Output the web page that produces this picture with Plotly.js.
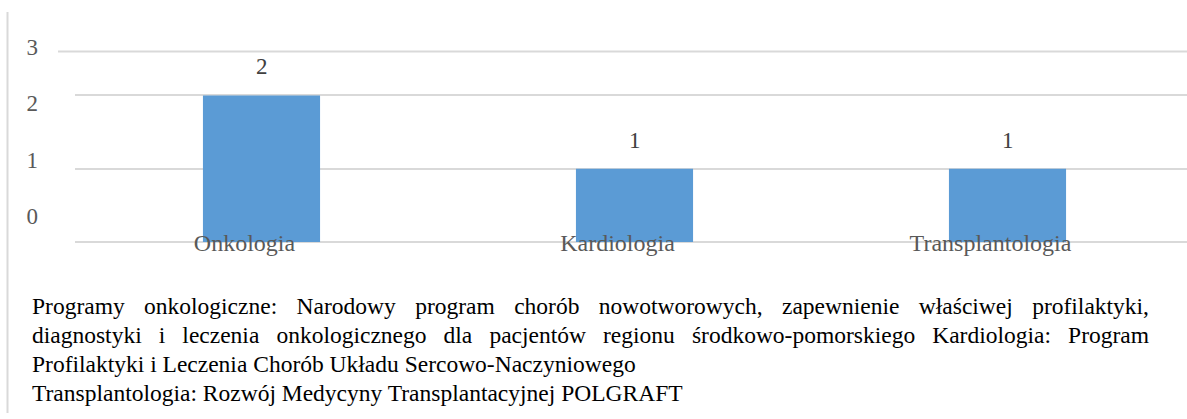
<!DOCTYPE html>
<html>
<head>
<meta charset="utf-8">
<script src="https://cdn.plot.ly/plotly-3.0.1.min.js"></script>
<style>
html,body{margin:0;padding:0;background:#fff;overflow:hidden;}
#chart{width:1200px;height:419px;}
</style>
</head>
<body>
<div id="chart"></div>
<script>
// ---- data ----
const categories = ["Onkologia", "Kardiologia", "Transplantologia"];
const values = [2, 1, 1];
const yTickValues = [0, 1, 2, 3];
const yTickLabels = ["0", "1", "2", "3"];
const captionLines = [
  "Programy onkologiczne: Narodowy program chorób nowotworowych, zapewnienie właściwej profilaktyki,",
  "diagnostyki i leczenia onkologicznego dla pacjentów regionu środkowo-pomorskiego Kardiologia: Program",
  "Profilaktyki i Leczenia Chorób Układu Sercowo-Naczyniowego",
  "Transplantologia: Rozwój Medycyny Transplantacyjnej POLGRAFT"
];
const justifyLines = [true, true, false, false];

// ---- geometry / style ----
const W = 1200, H = 419;
const M = {l: 75, r: 6, t: 40, b: 177};
const plotW = W - M.l - M.r, plotH = H - M.t - M.b;
const unitPx = 73.3;
const serif = "Liberation Serif";
const capFont = 23.5;
const capLeftPx = 30, capRightPx = 1147;
const capBaselines = [313, 342, 371, 400];

function pxToPaperX(px){ return (px - M.l) / plotW; }
function pxToPaperY(py){ return 1 - (py - M.t) / plotH; }

// measure text to justify lines
const cv = document.createElement('canvas').getContext('2d');
cv.font = capFont + "px \"Liberation Serif\"";

const annotations = [];
categories.forEach((c, i) => {
  annotations.push({
    x: c, y: values[i], xref: 'x', yref: 'y',
    text: String(values[i]), showarrow: false,
    yanchor: 'bottom', yshift: 14,
    font: {family: serif, size: 23, color: '#404040'}
  });
});
captionLines.forEach((line, i) => {
  let txt = line;
  if (justifyLines[i]) {
    const w = cv.measureText(line).width;
    const n = (line.match(/ /g) || []).length;
    const ws = ((capRightPx - capLeftPx) - w) / n;
    txt = '<span style="word-spacing:' + ws.toFixed(2) + 'px">' + line + '</span>';
  }
  annotations.push({
    x: pxToPaperX(capLeftPx), xref: 'paper', xanchor: 'left',
    y: pxToPaperY(capBaselines[i] - 7.5), yref: 'paper', yanchor: 'middle',
    text: txt, showarrow: false, align: 'left',
    font: {family: serif, size: capFont, color: '#000000'}
  });
});

const traces = [
  {
    type: 'bar', x: categories, y: values,
    marker: {color: '#5b9bd5', line: {width: 0}},
    hoverinfo: 'x+y', showlegend: false
  },
  {
    type: 'scatter', x: [], y: [], yaxis: 'y2',
    showlegend: false, hoverinfo: 'skip'
  }
];

const layout = {
  width: W, height: H,
  margin: M,
  font: {family: serif},
  paper_bgcolor: '#ffffff', plot_bgcolor: 'rgba(0,0,0,0)',
  bargap: 0.686,
  showlegend: false,
  xaxis: {
    type: 'category', range: [-0.5, 2.5],
    showgrid: false, zeroline: false, showline: false,
    ticks: '', ticklabelstandoff: -16, ticklabelshift: -17,
    tickfont: {family: serif, size: 24, color: '#595959'},
    fixedrange: true
  },
  yaxis: {
    range: [0, plotH / unitPx],
    tickvals: [0, 1, 2],
    showticklabels: false, ticks: '',
    showgrid: true, gridcolor: '#d9d9d9', gridwidth: 2,
    zeroline: true, zerolinecolor: '#d9d9d9', zerolinewidth: 2,
    showline: false, fixedrange: true, layer: 'below traces'
  },
  yaxis2: {
    anchor: 'free', position: 0, side: 'left',
    domain: [(M.t + plotH - 216) / plotH, (M.t + plotH - 47) / plotH],
    range: [0, 3],
    tickvals: yTickValues, ticktext: yTickLabels,
    ticks: '', ticklabelstandoff: 37,
    showgrid: false, zeroline: false, showline: false,
    tickfont: {family: serif, size: 23, color: '#595959'},
    fixedrange: true
  },
  shapes: [
    {type: 'line', xref: 'paper', yref: 'y', x0: pxToPaperX(58), x1: 1, y0: 2.6, y1: 2.6,
     line: {color: '#d9d9d9', width: 2}},
    {type: 'line', xref: 'paper', yref: 'paper', x0: pxToPaperX(7.5), x1: pxToPaperX(7.5),
     y0: pxToPaperY(12), y1: pxToPaperY(413), line: {color: '#d9d9d9', width: 2}}
  ],
  annotations: annotations
};

Plotly.newPlot('chart', traces, layout, {displayModeBar: false, staticPlot: true});
</script>
</body>
</html>
